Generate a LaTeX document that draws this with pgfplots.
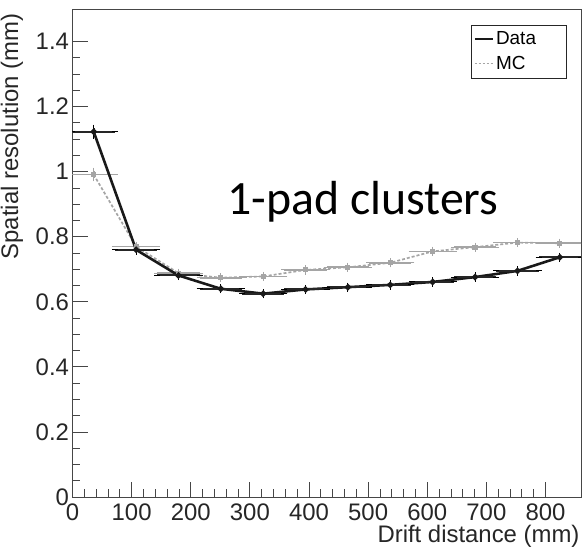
\documentclass[border=0pt]{standalone}
\usepackage{pgfplots}
\pgfplotsset{compat=1.18}
\usepackage{fontspec}
\setmainfont{Liberation Sans}
\newfontfamily\calfont{Carlito}
\definecolor{mcgray}{RGB}{165,165,165}
\definecolor{framegray}{RGB}{70,70,70}
\begin{document}
\begin{tikzpicture}
\begin{axis}[
  scale only axis,
  width=508.5bp, height=488bp,
  xmin=0, xmax=860, ymin=0, ymax=1.5,
  axis line style={framegray, line width=0.8pt},
  tick style={framegray, line width=0.8pt},
  tick align=inside,
  xtick pos=left, ytick pos=left,
  xtick={0,100,...,800},
  minor x tick num=4,
  ytick={0,0.2,0.4,0.6,0.8,1,1.2,1.4},
  yticklabels={0,0.2,0.4,0.6,0.8,1,1.2,1.4},
  minor y tick num=3,
  major tick length=15bp, minor tick length=8bp,
  /pgf/number format/assume math mode=true,
  ticklabel style={font=\fontsize{24}{27}\selectfont, text=black!85},
  xticklabel style={yshift=-3bp},
  yticklabel style={xshift=0bp},
  xlabel={Drift distance (mm)},
  ylabel={Spatial resolution (mm)},
  label style={font=\fontsize{24}{27}\selectfont, text=black!85},
  xlabel style={at={(rel axis cs:1,0)}, anchor=north east, yshift=-25bp, xshift=2bp},
  ylabel style={at={(rel axis cs:0,1)}, anchor=south east, yshift=46bp, xshift=-1bp},
  legend style={at={(rel axis cs:0.784,0.968)}, anchor=north west, draw=black!85, line width=0.6pt,
    font=\fontsize{19}{22}\selectfont, inner xsep=2bp, inner ysep=5bp, row sep=6bp,
    cells={anchor=west}, nodes={text width=66bp, align=left, inner xsep=2bp}},
  legend image code/.code={\draw[#1] (0bp,0bp) -- (18bp,0bp);},
]
\addplot[forget plot, mcgray, line width=1.7pt, dash pattern=on 3pt off 2pt,
  mark=square*, mark size=1.7bp, mark options={solid, fill=mcgray},
  error bars/.cd, x dir=both, x explicit, y dir=both, y explicit,
  error bar style={solid, line width=1.7pt, mcgray},
  error mark options={solid, mark size=3bp, line width=1pt, mcgray}]
  table[x=x, y=y, x error=ex, y error=ey] {
x y ex ey
35.8 0.991 35.8 0.012
107.5 0.770 35.8 0.006
179.2 0.688 35.8 0.005
250.8 0.674 35.8 0.005
322.5 0.678 35.8 0.005
394.2 0.698 35.8 0.005
465.8 0.706 35.8 0.005
537.5 0.720 35.8 0.005
609.2 0.755 35.8 0.005
680.8 0.768 35.8 0.005
752.5 0.782 35.8 0.005
824.2 0.780 35.8 0.005
};
\addplot[forget plot, black!90, line width=2.6pt,
  mark=*, mark size=1.7bp, mark options={fill=black},
  error bars/.cd, x dir=both, x explicit, y dir=both, y explicit,
  error bar style={line width=2pt, black!85},
  error mark options={mark size=3bp, line width=1pt, black}]
  table[x=x, y=y, x error=ex, y error=ey] {
x y ex ey
35.8 1.123 35.8 0.012
107.5 0.760 35.8 0.006
179.2 0.681 35.8 0.005
250.8 0.640 35.8 0.005
322.5 0.625 35.8 0.005
394.2 0.638 35.8 0.005
465.8 0.645 35.8 0.005
537.5 0.652 35.8 0.005
609.2 0.661 35.8 0.005
680.8 0.676 35.8 0.005
752.5 0.695 35.8 0.005
824.2 0.737 35.8 0.005
};
\addlegendimage{black!90, line width=2.6pt}
\addlegendentry{Data}
\addlegendimage{mcgray, line width=1.2pt, dash pattern=on 2.5pt off 1.5pt}
\addlegendentry{MC}
\node[anchor=base, font=\calfont\fontsize{48}{52}\selectfont, inner sep=0pt] at (axis cs:491,0.868) {1-pad clusters};
\coordinate (O) at (rel axis cs:0,0);
\end{axis}
\pgfresetboundingbox
\path (O) ++(-72.5bp,-51bp) rectangle ++(583bp,548bp);
\end{tikzpicture}
\end{document}
